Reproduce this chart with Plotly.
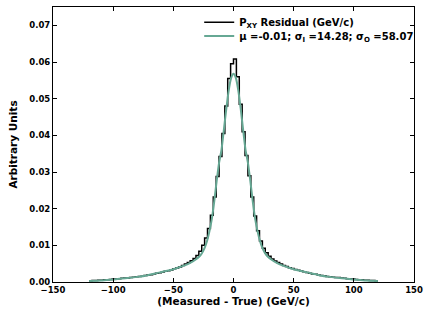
"""Transverse momentum residual histogram with its double-Gaussian fit."""

import numpy as np
import plotly.graph_objects as go


# histogram: 100 bins between -120 and 120 (GeV/c)
BIN_LOW = -120.0
BIN_HIGH = 120.0
RESIDUAL_COUNTS = [
    0.0003, 0.0004, 0.0004, 0.0005, 0.0005, 0.0006, 0.0006, 0.0007, 0.0008, 0.0008,
    0.0009, 0.0010, 0.0011, 0.0011, 0.0012, 0.0013, 0.0014, 0.0015, 0.0016, 0.0018,
    0.0019, 0.0020, 0.0022, 0.0024, 0.0025, 0.0027, 0.0029, 0.0031, 0.0033, 0.0036,
    0.0038, 0.0041, 0.0045, 0.0049, 0.0053, 0.0058, 0.0064, 0.0072, 0.0084, 0.0100,
    0.0120, 0.0146, 0.0182, 0.0232, 0.0288, 0.0342, 0.0405, 0.0480, 0.0555, 0.0595,
    0.0608, 0.0560, 0.0485, 0.0410, 0.0345, 0.0290, 0.0232, 0.0180, 0.0140, 0.0112,
    0.0092, 0.0080, 0.0070, 0.0063, 0.0057, 0.0053, 0.0049, 0.0045, 0.0042, 0.0039,
    0.0037, 0.0034, 0.0032, 0.0030, 0.0028, 0.0026, 0.0024, 0.0022, 0.0021, 0.0019,
    0.0018, 0.0017, 0.0015, 0.0014, 0.0013, 0.0012, 0.0012, 0.0011, 0.0010, 0.0009,
    0.0008, 0.0008, 0.0007, 0.0006, 0.0006, 0.0005, 0.0005, 0.0004, 0.0004, 0.0003,
]

# fitted curve
FIT_X = [
    -120, -110, -100, -90, -80, -72, -64, -56, -48, -40, -36, -32, -28, -26, -24,
    -22, -20, -18, -16, -14, -12, -10, -8, -6, -4, -2, 0,
    2, 4, 6, 8, 10, 12, 14, 16, 18, 20, 22, 24, 26, 28, 32, 36, 40, 48, 56, 64,
    72, 80, 90, 100, 110, 120,
]
FIT_Y = [
    0.0003, 0.0004, 0.0007, 0.0010, 0.0014, 0.0018, 0.0024, 0.0030, 0.0037, 0.0046,
    0.0052, 0.0060, 0.0071, 0.0080, 0.0093, 0.0112, 0.0138, 0.0172, 0.0220, 0.0275,
    0.0325, 0.0360, 0.0415, 0.0472, 0.0522, 0.0556, 0.0568,
    0.0556, 0.0522, 0.0472, 0.0415, 0.0360, 0.0325, 0.0275, 0.0220, 0.0172, 0.0138,
    0.0112, 0.0093, 0.0080, 0.0071, 0.0060, 0.0052, 0.0046, 0.0037, 0.0030, 0.0024,
    0.0018, 0.0014, 0.0010, 0.0007, 0.0004, 0.0003,
]

X_TICKS = [-150, -100, -50, 0, 50, 100, 150]
Y_TICKS = [0.00, 0.01, 0.02, 0.03, 0.04, 0.05, 0.06, 0.07]

HIST_NAME = "P<sub>XY</sub> Residual (GeV/c)"
FIT_NAME = "μ =-0.01; σ<sub>I</sub> =14.28; σ<sub>O</sub> =58.07"

FIT_COLOR = "#66a894"

bin_edges = np.linspace(BIN_LOW, BIN_HIGH, len(RESIDUAL_COUNTS) + 1)
step_y = RESIDUAL_COUNTS + [RESIDUAL_COUNTS[-1]]

figure = go.Figure()

figure.add_trace(
    go.Scatter(
        x=bin_edges,
        y=step_y,
        mode="lines",
        line={"color": "black", "width": 1.5, "shape": "hv"},
        name=HIST_NAME,
        showlegend=True,
        legend="legend",
    )
)

figure.add_trace(
    go.Scatter(
        x=FIT_X,
        y=FIT_Y,
        mode="lines",
        line={"color": FIT_COLOR, "width": 2, "shape": "spline", "smoothing": 0.6},
        name=FIT_NAME,
        showlegend=True,
        legend="legend2",
    )
)

axis_common = {
    "showline": True,
    "linecolor": "black",
    "linewidth": 1,
    "mirror": "allticks",
    "ticks": "inside",
    "ticklen": 4,
    "tickcolor": "black",
    "showgrid": False,
    "zeroline": False,
    "tickfont": {"family": "DejaVu Sans", "size": 8.5, "color": "black", "weight": "bold"},
    "title_font": {"family": "DejaVu Sans", "size": 10.5, "color": "black", "weight": "bold"},
}

figure.update_xaxes(
    range=[-150, 150],
    tickvals=X_TICKS,
    ticktext=[str(v).replace("-", "\u2212") for v in X_TICKS],
    title_text="(Measured - True) (GeV/c)",
    title_standoff=0,
    **axis_common,
)

figure.update_yaxes(
    range=[0, 0.075],
    tickvals=Y_TICKS,
    ticktext=[f"{v:.2f}" for v in Y_TICKS],
    title_text="Arbitrary Units",
    title_standoff=9,
    **axis_common,
)

legend_common = {
    "x": 0.405,
    "xanchor": "left",
    "yanchor": "middle",
    "bgcolor": "rgba(0,0,0,0)",
    "font": {"family": "DejaVu Sans", "size": 10, "color": "black", "weight": "bold"},
    "itemwidth": 30,
    "visible": True,
}

figure.update_layout(
    width=429,
    height=322,
    margin={"l": 53, "r": 13, "t": 6, "b": 40},
    paper_bgcolor="white",
    plot_bgcolor="white",
    showlegend=True,
    font={"family": "DejaVu Sans", "size": 10, "color": "black", "weight": "bold"},
    legend={**legend_common, "y": 0.945},
    legend2={**legend_common, "y": 0.895},
)

figure.write_html(
    "out.html",
    config={"displayModeBar": False},
    post_script="document.body.style.margin = '0';",
)
